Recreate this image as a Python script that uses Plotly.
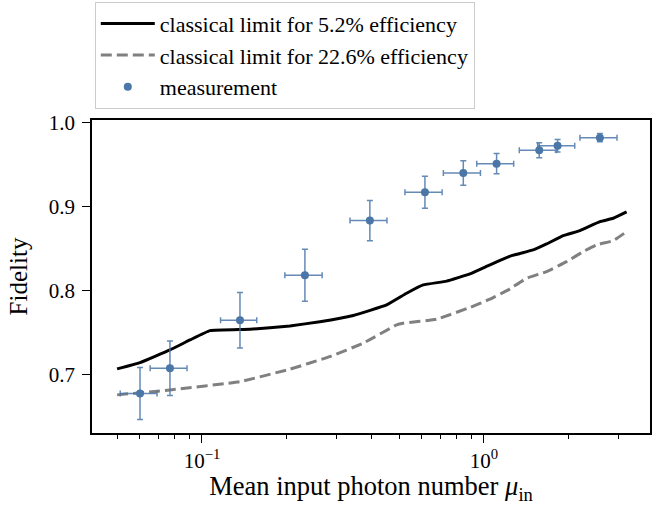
import plotly.graph_objects as go

# Classical limit, 5.2% efficiency
lim52_x = [0.05, 0.0603, 0.077, 0.0907, 0.1068, 0.148, 0.205, 0.262, 0.344, 0.4518, 0.532, 0.609,
           0.737, 0.892, 1.05, 1.253, 1.496, 1.668, 1.911, 2.19, 2.578, 2.875, 3.207]
lim52_y = [0.7063, 0.7138, 0.7289, 0.7408, 0.7519, 0.7535, 0.7575, 0.7625, 0.770, 0.7825, 0.7964, 0.8063,
           0.8108, 0.8194, 0.8301, 0.8412, 0.848, 0.8551, 0.865, 0.871, 0.8817, 0.8857, 0.8932]

# Classical limit, 22.6% efficiency
lim226_x = [0.05, 0.077, 0.1364, 0.205, 0.284, 0.373, 0.49, 0.517, 0.68, 0.892, 1.05,
            1.22, 1.417, 1.668, 1.964, 2.25, 2.509, 2.875, 3.207]
lim226_y = [0.6754, 0.6813, 0.6912, 0.706, 0.721, 0.7369, 0.7587, 0.7607, 0.7655, 0.7795, 0.7893,
            0.8004, 0.8143, 0.8221, 0.834, 0.846, 0.854, 0.859, 0.8698]

# Measurements
meas_x = [0.0603, 0.077, 0.1364, 0.2318, 0.394, 0.6177, 0.845, 1.109, 1.571, 1.825, 2.578]
meas_y = [0.677, 0.7071, 0.7643, 0.8179, 0.8829, 0.9167, 0.9396, 0.9507, 0.9667, 0.9721, 0.9817]
meas_xerr = [0.009, 0.0115, 0.02, 0.035, 0.059, 0.093, 0.127, 0.166, 0.236, 0.274, 0.387]
meas_yerr = [0.031, 0.0325, 0.033, 0.031, 0.024, 0.019, 0.0145, 0.012, 0.009, 0.0075, 0.005]

x_major_vals = [0.1, 1]
x_major_text = ["10<sup>−1</sup>", "10<sup>0</sup>"]
x_minor_vals = [0.05, 0.06, 0.07, 0.08, 0.09, 0.2, 0.3, 0.4, 0.5, 0.6, 0.7, 0.8, 0.9, 2, 3]
y_tick_vals = [0.7, 0.8, 0.9, 1.0]
y_tick_text = ["0.7", "0.8", "0.9", "1.0"]

FONT = "Liberation Serif, DejaVu Serif, serif"
blue = "#4a76a8"
ebar = "rgba(74,118,168,0.85)"

fig = go.Figure()
fig.add_trace(go.Scatter(x=lim52_x, y=lim52_y, mode="lines",
                         line=dict(color="black", width=3, shape="spline", smoothing=0.3),
                         name="classical limit for 5.2% efficiency"))
fig.add_trace(go.Scatter(x=lim226_x, y=lim226_y, mode="lines",
                         line=dict(color="#808080", width=3, dash="11px,5px", shape="spline", smoothing=0.3),
                         name="classical limit for 22.6% efficiency"))
fig.add_trace(go.Scatter(x=meas_x, y=meas_y, mode="markers",
                         marker=dict(color=blue, size=8),
                         error_x=dict(type="data", array=meas_xerr, color=ebar, thickness=1.5, width=3),
                         error_y=dict(type="data", array=meas_yerr, color=ebar, thickness=1.5, width=3),
                         name="measurement"))

fig.update_layout(
    width=655, height=505,
    margin=dict(l=92, r=5, t=120, b=72, autoexpand=False),
    paper_bgcolor="white", plot_bgcolor="white",
    font=dict(family=FONT, size=21, color="black"),
    showlegend=True,
    legend=dict(x=0.005, y=1.378, xanchor="left", yanchor="top",
                bordercolor="#cccccc", borderwidth=1, bgcolor="white",
                font=dict(family=FONT, size=22), itemwidth=54, tracegroupgap=0),
    xaxis=dict(type="log", range=[-1.390, 0.589], tickmode="array",
               tickvals=x_major_vals, ticktext=x_major_text,
               ticks="outside", ticklen=8, tickwidth=1.2, tickcolor="black",
               showline=True, linecolor="black", linewidth=1.5, mirror=True,
               showgrid=False, zeroline=False, ticklabelstandoff=0,
               minor=dict(tickmode="array", tickvals=x_minor_vals, ticks="outside", ticklen=4.5,
                          tickwidth=1, tickcolor="black", showgrid=False),
               title=dict(text="Mean input photon number <i>μ</i><sub>in</sub>", standoff=3,
                          font=dict(family=FONT, size=26.5)),
               tickfont=dict(family=FONT, size=21)),
    yaxis=dict(range=[0.630, 1.0027], tickmode="array", tickvals=y_tick_vals, ticktext=y_tick_text,
               ticks="outside", ticklen=8, tickwidth=1.2, tickcolor="black",
               showline=True, linecolor="black", linewidth=1.5, mirror=True,
               showgrid=False, zeroline=False, ticklabelstandoff=3,
               title=dict(text="Fidelity", standoff=14, font=dict(family=FONT, size=25)),
               tickfont=dict(family=FONT, size=21)),
)

fig.write_html("out.html")
